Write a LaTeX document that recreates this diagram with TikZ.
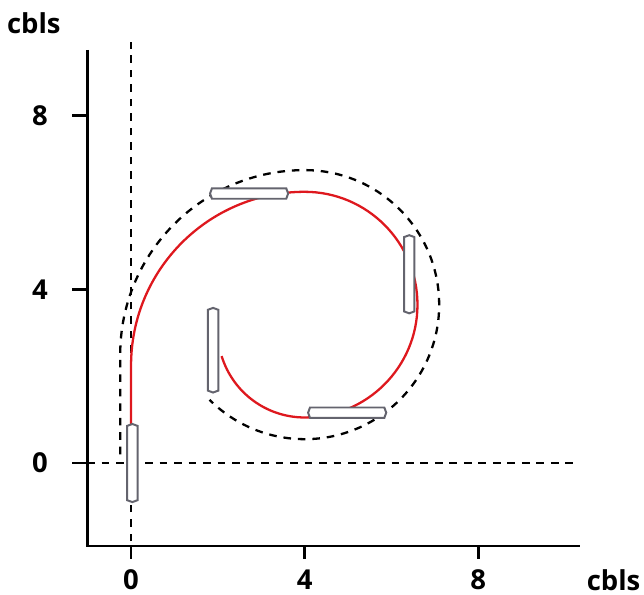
\documentclass[tikz,border=0pt]{standalone}
\usepackage{fontspec}
\setmainfont{Open Sans}
\usepackage{tikz}
\usetikzlibrary{positioning,shapes.symbols}
\definecolor{trackred}{RGB}{222, 24, 30}
\definecolor{shipgray}{RGB}{100, 100, 110}

\begin{document}
\begin{tikzpicture}[
    axis/.style={line width=1.8pt},
    guide/.style={line width=1.5pt, dash pattern=on 5pt off 4.5pt},
    ship/.style={
        signal, signal to=east and west, signal pointer angle=140,
        draw=shipgray, fill=white, line width=1.3pt,
        minimum width=1.8cm, minimum height=0.24cm, inner sep=0pt
    },
    lbl/.style={font=\fontsize{18}{21}\selectfont\bfseries}
]
    \useasboundingbox (-3.02,-3.04) rectangle (11.82,10.67);

    % Axes
    \draw[axis] (-1.01,9.52) -- (-1.01,-1.91) -- (10.35,-1.91);
    \foreach \v in {0,4,8} {
        \draw[axis] (-1.35,\v) -- (-1.01,\v);
        \draw[axis] (\v,-1.91) -- (\v,-2.2);
        \node[lbl] (ylab\v) at (-2.1,\v) {\v};
        \node[lbl] (xlab\v) at (\v,-2.68) {\v};
    }
    \node[lbl] (ytitle) at (-2.24,10.13) {cbls};
    \node[lbl] (xtitle) at (11.12,-2.7) {cbls};

    % Reference lines
    \draw[guide] (0,-1.8) -- (0,9.7);
    \draw[guide] (-1.01,0) -- (10.2,0);

    % Turning envelope
    \draw[guide] (-0.25,0.2) -- (-0.25,2.5)
        arc[start angle=180, end angle=90, radius=4.25]
        arc[start angle=90, end angle=-135, radius=3.1];

    % Track
    \draw[trackred, line width=1.5pt] (0,0.9) -- (0,2.25)
        arc[start angle=180, end angle=90, radius=4]
        arc[start angle=90, end angle=-90, radius=2.6]
        arc[start angle=-90, end angle=-163, radius=2];

    % Ships
    \node[ship, rotate=90] (ship1) at (0.03,0) {};
    \node[ship] (ship2) at (2.72,6.21) {};
    \node[ship, rotate=90] (ship3) at (6.41,4.35) {};
    \node[ship] (ship4) at (4.98,1.16) {};
    \node[ship, rotate=90, minimum width=1.95cm] (ship5) at (1.89,2.6) {};
\end{tikzpicture}
\end{document}
